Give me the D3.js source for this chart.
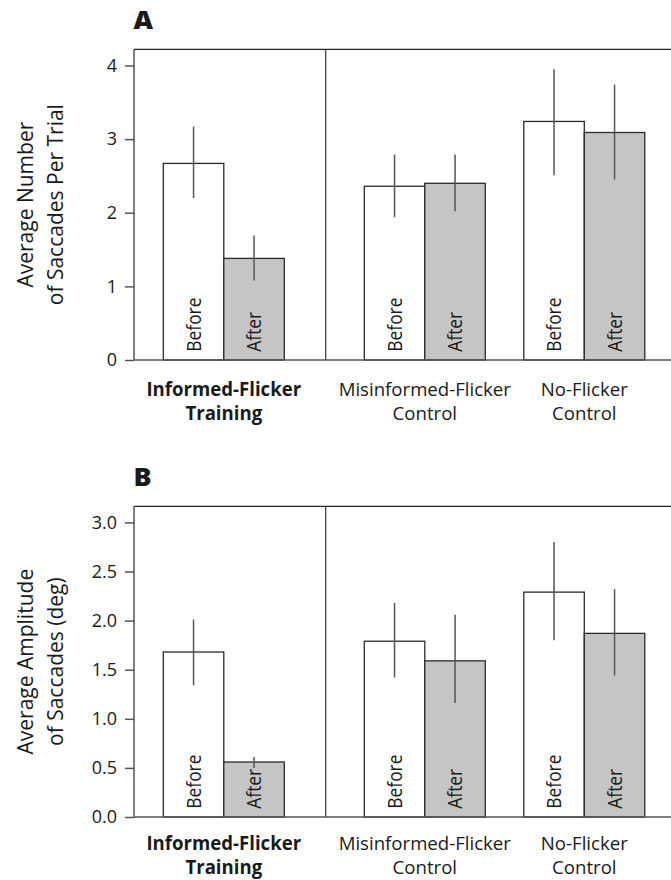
<!DOCTYPE html>
<html>
<head>
<meta charset="utf-8">
<script src="https://cdn.jsdelivr.net/npm/d3@7"></script>
<style>
  html, body { margin: 0; padding: 0; background: #fff; }
  svg { display: block; }
  text { font-family: "Open Sans", "Noto Sans", sans-serif; fill: #1a1a1a; }
</style>
</head>
<body>
<svg id="chart" width="671" height="880"></svg>
<script>
// ---------------- DATA ----------------
const groups = ["Informed-Flicker Training", "Misinformed-Flicker Control", "No-Flicker Control"];
const groupLines = [["Informed-Flicker", "Training"], ["Misinformed-Flicker", "Control"], ["No-Flicker", "Control"]];
const phases = ["Before", "After"];

// Panel A: average number of saccades per trial
const saccBefore   = [2.67, 2.36, 3.24];
const saccAfter    = [1.38, 2.40, 3.09];
const saccBeforeHi = [3.17, 2.79, 3.95];
const saccBeforeLo = [2.20, 1.94, 2.51];
const saccAfterHi  = [1.69, 2.79, 3.74];
const saccAfterLo  = [1.08, 2.02, 2.45];
const saccTicks = [0, 1, 2, 3, 4];

// Panel B: average amplitude of saccades (deg)
const ampBefore   = [1.68, 1.79, 2.29];
const ampAfter    = [0.56, 1.59, 1.87];
const ampBeforeHi = [2.01, 2.18, 2.80];
const ampBeforeLo = [1.34, 1.42, 1.80];
const ampAfterHi  = [0.61, 2.06, 2.32];
const ampAfterLo  = [0.50, 1.16, 1.44];
const ampTicks = [0, 0.5, 1.0, 1.5, 2.0, 2.5, 3.0];

// ---------------- LAYOUT ----------------
const svg = d3.select("#chart");
const plotLeft = 134, plotRight = 671, divider = 325.7;

// group scales: one for the training section, one for the control section
const xTrain = d3.scaleBand().domain([groups[0]]).range([163.3, 284.3]).padding(0);
const xCtrl = d3.scaleBand().domain([groups[1], groups[2]]).range([364.3, 644.7])
  .paddingInner(0.242).paddingOuter(0);
const groupX = g => (g === groups[0] ? xTrain(g) : xCtrl(g));
const bw = xTrain.bandwidth();
const xPhase = d3.scaleBand().domain(phases).range([0, bw]).padding(0);

function panel(opts) {
  const { top, bottom, max, ticks, fmt, before, after, bHi, bLo, aHi, aLo, letter, titleLines,
          labelDy, labelSize, labelScale } = opts;
  const y = d3.scaleLinear().domain([0, max]).range([bottom, top]);
  const g = svg.append("g");

  // panel letter
  g.append("text").attr("transform", `translate(${plotLeft - 0.5},${top - 20.5}) scale(1.12,1)`)
    .attr("font-size", 24).attr("font-weight", 800)
    .text(letter);

  // data records
  const recs = [];
  groups.forEach((grp, i) => {
    recs.push({ grp, phase: "Before", v: before[i], hi: bHi[i], lo: bLo[i] });
    recs.push({ grp, phase: "After", v: after[i], hi: aHi[i], lo: aLo[i] });
  });

  // bars
  g.selectAll("rect.bar").data(recs).join("rect")
    .attr("class", "bar")
    .attr("x", d => groupX(d.grp) + xPhase(d.phase))
    .attr("width", xPhase.bandwidth())
    .attr("y", d => y(d.v))
    .attr("height", d => y(0) - y(d.v))
    .attr("fill", d => d.phase === "Before" ? "#ffffff" : "#c4c5c4")
    .attr("stroke", "#2a2a2a")
    .attr("stroke-width", 1.3);

  // bar labels (rotated, slightly condensed)
  g.selectAll("text.plab").data(recs).join("text")
    .attr("class", "plab")
    .attr("transform", d => {
      const cx = groupX(d.grp) + xPhase(d.phase) + xPhase.bandwidth() / 2 + 7;
      return `translate(${cx},${y(0) - 8.3}) rotate(-90) scale(0.87,1)`;
    })
    .attr("font-size", 20)
    .text(d => d.phase);

  // error bars
  g.selectAll("line.err").data(recs).join("line")
    .attr("class", "err")
    .attr("x1", d => groupX(d.grp) + xPhase(d.phase) + xPhase.bandwidth() / 2)
    .attr("x2", d => groupX(d.grp) + xPhase(d.phase) + xPhase.bandwidth() / 2)
    .attr("y1", d => y(d.hi))
    .attr("y2", d => y(d.lo))
    .attr("stroke", "#555")
    .attr("stroke-width", 1.5);

  // frame: left axis, top line, divider, baseline
  const frameColor = "#555";
  g.append("line").attr("x1", plotLeft).attr("x2", plotRight).attr("y1", top).attr("y2", top)
    .attr("stroke", "#222").attr("stroke-width", 1.3);
  g.append("line").attr("x1", divider).attr("x2", divider).attr("y1", top).attr("y2", bottom)
    .attr("stroke", "#333").attr("stroke-width", 1.2);
  g.append("line").attr("x1", plotLeft).attr("x2", plotRight).attr("y1", bottom).attr("y2", bottom)
    .attr("stroke", frameColor).attr("stroke-width", 1.5);

  // y axis
  const axis = d3.axisLeft(y).tickValues(ticks).tickFormat(fmt).tickSizeOuter(0).tickSize(9).tickPadding(8);
  const ag = g.append("g").attr("transform", `translate(${plotLeft},0)`).call(axis);
  ag.select(".domain").attr("stroke", frameColor).attr("stroke-width", 1.5)
    .attr("d", `M0,${top}V${bottom}`);
  ag.selectAll(".tick line").attr("stroke", frameColor).attr("stroke-width", 1.5);
  ag.selectAll(".tick text").attr("font-size", 18).attr("fill", "#1a1a1a")
    .style("font-family", "'Open Sans', sans-serif");

  // y title
  const cy = (top + bottom) / 2;
  const tt = g.append("text").attr("transform", `translate(0,${cy}) rotate(-90)`)
    .attr("text-anchor", "middle").attr("font-size", 21);
  tt.append("tspan").attr("x", 0).attr("y", 33.3).text(titleLines[0]);
  tt.append("tspan").attr("x", 0).attr("y", 63.3).text(titleLines[1]);

  // group labels (two lines each, slightly condensed)
  groups.forEach((grp, i) => {
    const cx = groupX(grp) + bw / 2;
    [0, 1].forEach(li => {
      g.append("text")
        .attr("transform", `translate(${cx},${bottom + labelDy[li]}) scale(${labelScale},1)`)
        .attr("text-anchor", "middle").attr("font-size", labelSize)
        .attr("font-weight", i === 0 ? 700 : 400)
        .text(groupLines[i][li]);
    });
  });
}

panel({
  top: 49.3, bottom: 360, max: 4.22, ticks: saccTicks, fmt: d3.format("d"),
  before: saccBefore, after: saccAfter, bHi: saccBeforeHi, bLo: saccBeforeLo, aHi: saccAfterHi, aLo: saccAfterLo,
  letter: "A", titleLines: ["Average Number", "of Saccades Per Trial"],
  labelDy: [35.7, 60.2], labelSize: 19, labelScale: 0.98
});
panel({
  top: 506.3, bottom: 817, max: 3.164, ticks: ampTicks, fmt: d3.format(".1f"),
  before: ampBefore, after: ampAfter, bHi: ampBeforeHi, bLo: ampBeforeLo, aHi: ampAfterHi, aLo: ampAfterLo,
  letter: "B", titleLines: ["Average Amplitude", "of Saccades (deg)"],
  labelDy: [32.5, 57], labelSize: 19, labelScale: 0.98
});
</script>
</body>
</html>
